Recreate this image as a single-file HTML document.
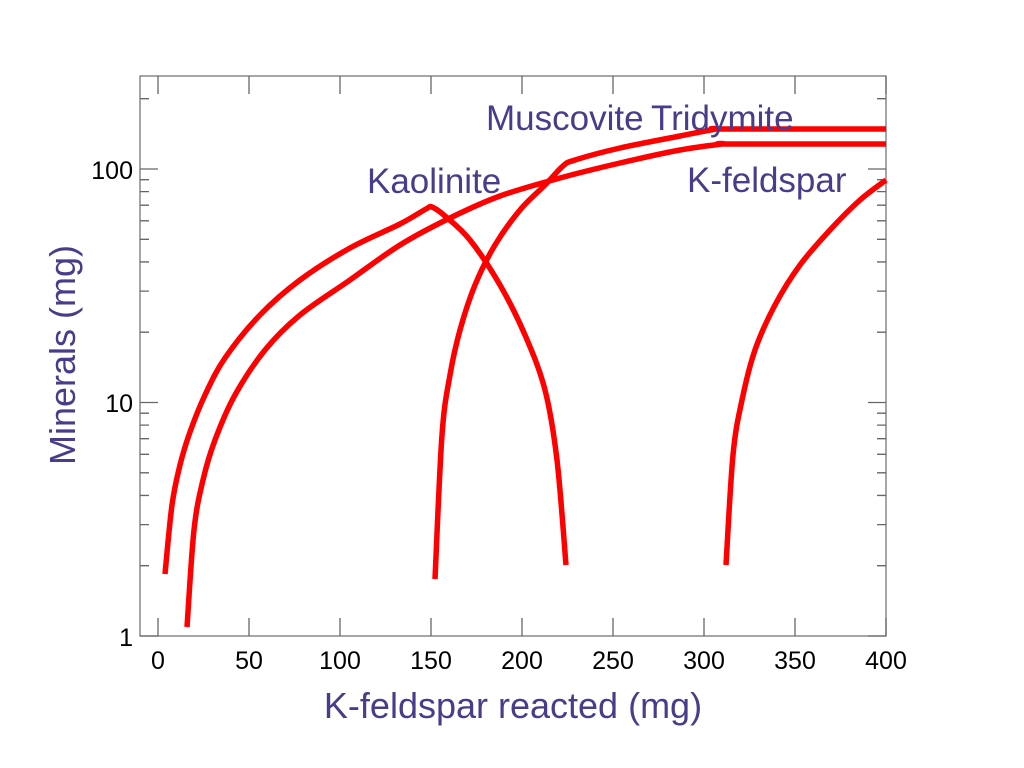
<!DOCTYPE html>
<html><head><meta charset="utf-8"><style>
html,body{margin:0;padding:0;background:#fff;}
svg{display:block;font-family:"Liberation Sans",Arial,sans-serif;}
</style></head><body>
<svg id="s" width="1024" height="768" xmlns="http://www.w3.org/2000/svg">
<rect x="140" y="76" width="746" height="560" fill="none" stroke="#777" stroke-width="1.3"/>
<g id="ticks" stroke="#666" stroke-width="1.3"></g>
<g font-size="25" fill="#000" text-anchor="middle">
<text x="158" y="669">0</text><text x="249" y="669">50</text><text x="340" y="669">100</text>
<text x="431" y="669">150</text><text x="522" y="669">200</text><text x="613" y="669">250</text>
<text x="704" y="669">300</text><text x="795" y="669">350</text><text x="886" y="669">400</text>
</g>
<g font-size="25" fill="#000" text-anchor="end">
<text x="133" y="646">1</text><text x="133" y="412">10</text><text x="133" y="179">100</text>
</g>
<g id="curves" fill="none" stroke="#ff0000" stroke-width="5.5" stroke-linejoin="round" stroke-linecap="butt"></g>
<g font-size="35" fill="#483d8b">
<text x="486" y="130">Muscovite</text>
<text x="651" y="130">Tridymite</text>
<text x="367" y="193">Kaolinite</text>
<text x="687" y="192">K-feldspar</text>
<text x="513" y="718" font-size="36" text-anchor="middle">K-feldspar reacted (mg)</text>
<text transform="translate(75,355) rotate(-90)" font-size="36" text-anchor="middle">Minerals (mg)</text>
</g>
</svg>
<script>
var g=document.getElementById('ticks'),d='';
for(var i=0;i<=8;i++){var x=158+i*91;d+='M'+x+' 636V618M'+x+' 76V94';}
for(var e=0;e<3;e++)for(var m=1;m<=9;m++){var v=Math.pow(10,e)*m;if(v>250)continue;var y=636-233.5*Math.log10(v);if(y<77)continue;var L=(m==1)?18:9;d+='M140 '+y+'H'+(140+L)+'M886 '+y+'H'+(886-L);}
var p=document.createElementNS('http://www.w3.org/2000/svg','path');p.setAttribute('d',d);g.appendChild(p);
function smooth(pts){var s='M'+pts[0][0]+' '+pts[0][1];for(var i=0;i<pts.length-1;i++){var p0=pts[i-1]||pts[i],p1=pts[i],p2=pts[i+1],p3=pts[i+2]||p2;
var c1x=p1[0]+(p2[0]-p0[0])/6,c1y=p1[1]+(p2[1]-p0[1])/6,c2x=p2[0]-(p3[0]-p1[0])/6,c2y=p2[1]-(p3[1]-p1[1])/6;
s+='C'+c1x+' '+c1y+' '+c2x+' '+c2y+' '+p2[0]+' '+p2[1];}return s;}
var C=[
[[165,574],[172,505],[180,465],[190,432],[205,395],[225,358],[260,315],[300,280],[350,248],[400,224],[426,209],[432,207],[445,216],[470,240],[500,285],[525,335],[545,390],[557,460],[566,565]],
[[187,627],[194,530],[203,480],[215,440],[235,395],[265,350],[300,315],[350,280],[400,245],[450,218],[500,196],[560,178],[620,163],[680,150],[722,144],[730,144],[886,144]],
[[435,579],[442,435],[450,375],[460,330],[475,285],[495,245],[520,210],[545,185],[563,166],[575,160],[620,148],[680,136],[716,129],[724,129],[886,129]],
[[726,565],[733,455],[742,400],[755,350],[775,305],[800,265],[830,230],[860,200],[886,180]]];
var cg=document.getElementById('curves');
C.forEach(function(c){var q=document.createElementNS('http://www.w3.org/2000/svg','path');q.setAttribute('d',smooth(c));cg.appendChild(q);});
</script>
</body></html>
